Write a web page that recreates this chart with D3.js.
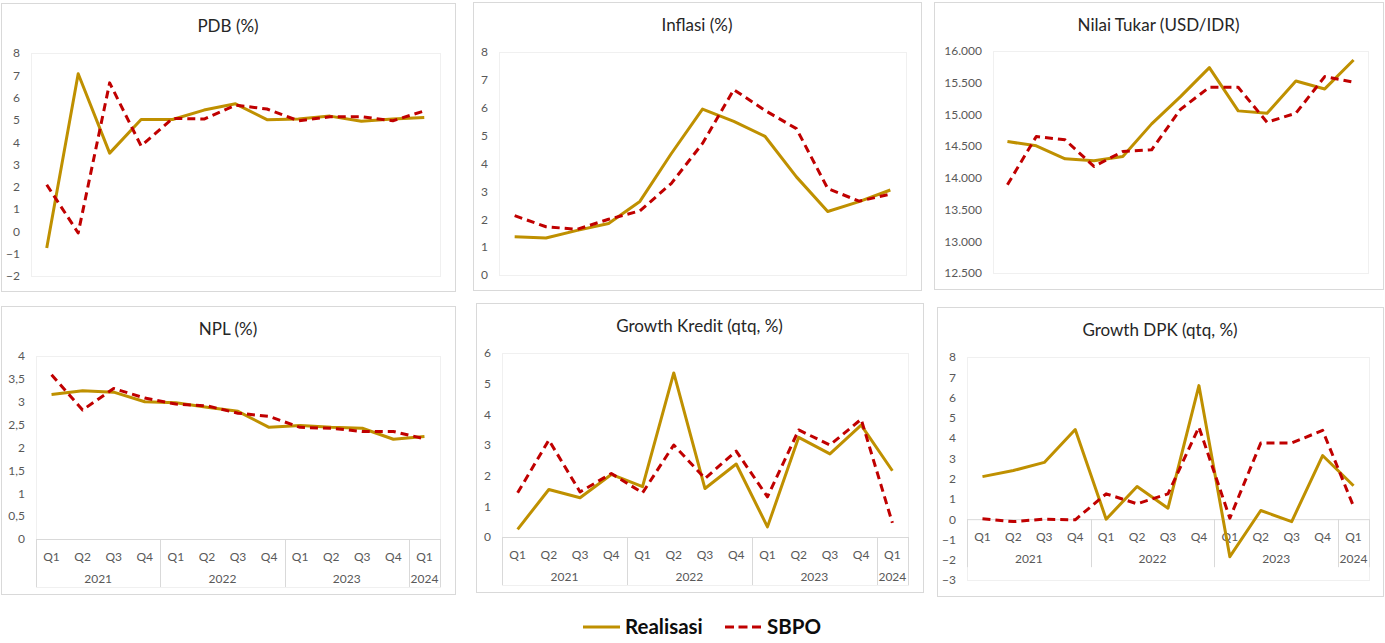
<!DOCTYPE html>
<html>
<head>
<meta charset="utf-8">
<script src="https://cdnjs.cloudflare.com/ajax/libs/d3/7.8.5/d3.min.js"></script>
<style>
  html, body { margin: 0; padding: 0; background: #fff; }
  svg { display: block; font-family: Lato, "Open Sans", sans-serif; }
</style>
</head>
<body>
<div id="chart"></div>
<script>
// ===============================================================
// Data
// ===============================================================
const quarters = ['Q1','Q2','Q3','Q4','Q1','Q2','Q3','Q4','Q1','Q2','Q3','Q4','Q1'];
const years = ['2021', '2022', '2023', '2024'];
const year_sizes = [4, 4, 4, 1];
const series_names = ['Realisasi', 'SBPO'];

const pdb_realisasi = [-0.74, 7.07, 3.51, 5.02, 5.02, 5.44, 5.72, 5.01, 5.04, 5.17, 4.94, 5.04, 5.11];
const pdb_sbpo      = [2.09, -0.07, 6.66, 3.83, 5.07, 5.04, 5.66, 5.49, 4.96, 5.14, 5.14, 4.96, 5.40];

const inflasi_realisasi = [1.37, 1.33, 1.60, 1.85, 2.64, 4.35, 5.95, 5.51, 4.97, 3.52, 2.28, 2.63, 3.05];
const inflasi_sbpo      = [2.13, 1.73, 1.64, 2.00, 2.30, 3.28, 4.72, 6.65, 5.90, 5.25, 3.10, 2.65, 2.90];

const kurs_realisasi = [14572, 14505, 14300, 14268, 14337, 14851, 15281, 15738, 15056, 15019, 15528, 15402, 15858];
const kurs_sbpo      = [13891, 14652, 14599, 14180, 14416, 14442, 15080, 15428, 15428, 14877, 15019, 15596, 15507];

const npl_realisasi = [3.16, 3.24, 3.21, 3.00, 2.98, 2.88, 2.79, 2.44, 2.48, 2.44, 2.42, 2.18, 2.24];
const npl_sbpo      = [3.59, 2.82, 3.29, 3.08, 2.95, 2.91, 2.75, 2.68, 2.44, 2.42, 2.35, 2.35, 2.19];

const kredit_realisasi = [0.25, 1.55, 1.28, 2.04, 1.64, 5.35, 1.58, 2.38, 0.33, 3.25, 2.71, 3.65, 2.16];
const kredit_sbpo      = [1.44, 3.16, 1.47, 2.07, 1.44, 3.00, 1.91, 2.80, 1.31, 3.49, 3.00, 3.84, 0.46];

const dpk_realisasi = [2.10, 2.40, 2.80, 4.42, 0.00, 1.61, 0.54, 6.59, -1.85, 0.43, -0.12, 3.14, 1.65];
const dpk_sbpo      = [0.02, -0.12, 0.00, -0.03, 1.25, 0.76, 1.25, 4.54, 0.05, 3.76, 3.76, 4.38, 0.63];

// ===============================================================
// Setup
// ===============================================================
const width = 1385, height = 643;
const colors = {Realisasi: '#bf9000', SBPO: '#c00000'};
const dash = '8,5';

const id_locale = d3.formatLocale({decimal: ',', thousands: '.', grouping: [3], currency: ['', '']});

// one entry per small chart: frame box, plot rect, y domain
const panels = [
  {title: 'PDB (%)', real: pdb_realisasi, sbpo: pdb_sbpo,
   box: [1, 3, 454, 288], plot: [31, 53, 409, 223], domain: [-2, 8], step: 1, fmt: d3.format('d'), x_axis: false},
  {title: 'Inflasi (%)', real: inflasi_realisasi, sbpo: inflasi_sbpo,
   box: [473, 2, 448, 288], plot: [499, 52, 407, 223], domain: [0, 8], step: 1, fmt: d3.format('d'), x_axis: false},
  {title: 'Nilai Tukar (USD/IDR)', real: kurs_realisasi, sbpo: kurs_sbpo,
   box: [934, 2, 449, 287], plot: [993, 51, 375, 222], domain: [12500, 16000], step: 500, fmt: id_locale.format(',.0f'), x_axis: false},
  {title: 'NPL (%)', real: npl_realisasi, sbpo: npl_sbpo,
   box: [1, 306, 454, 288], plot: [36, 356, 404, 183], domain: [0, 4], step: 0.5, fmt: id_locale.format(''), x_axis: true},
  {title: 'Growth Kredit (qtq, %)', real: kredit_realisasi, sbpo: kredit_sbpo,
   box: [476, 303, 447, 289], plot: [502, 353, 406, 184], domain: [0, 6], step: 1, fmt: d3.format('d'), x_axis: true},
  {title: 'Growth DPK (qtq, %)', real: dpk_realisasi, sbpo: dpk_sbpo,
   box: [937, 307, 446, 289], plot: [967, 357, 402, 223], domain: [-3, 8], step: 1, fmt: d3.format('d'), x_axis: true},
];

const svg = d3.select('#chart').append('svg')
  .attr('width', width)
  .attr('height', height);

panels.forEach(p => draw_panel(svg, p));
draw_legend(svg);

// ===============================================================
// Drawing
// ===============================================================
function draw_panel(svg, p) {
  const [bx, by, bw, bh] = p.box;
  const [px, py, pw, ph] = p.plot;
  const g = svg.append('g');

  g.append('rect')
    .attr('x', bx + 0.5).attr('y', by + 0.5)
    .attr('width', bw).attr('height', bh)
    .attr('fill', '#fff')
    .attr('stroke', '#d9d9d9');

  g.append('text')
    .attr('x', bx + bw / 2)
    .attr('y', by + 29)
    .attr('text-anchor', 'middle')
    .attr('font-size', 17)
    .attr('fill', '#262626')
    .text(p.title);

  const x = d3.scaleBand()
    .domain(d3.range(quarters.length))
    .range([px, px + pw])
    .padding(0);

  const y = d3.scaleLinear()
    .domain(p.domain)
    .range([py + ph, py]);

  const y0 = p.x_axis ? y(0) : null;
  const frame_bottom = p.x_axis ? Math.max(py + ph, y0 + 48) : py + ph;

  // faint plot area outline
  g.append('rect')
    .attr('x', px + 0.5).attr('y', py + 0.5)
    .attr('width', pw).attr('height', frame_bottom - py)
    .attr('fill', 'none')
    .attr('stroke', '#f0f0f0');

  const ticks = d3.range(p.domain[0], p.domain[1] + p.step / 2, p.step);
  g.append('g')
    .attr('transform', `translate(${px},0)`)
    .call(d3.axisLeft(y).tickValues(ticks).tickFormat(p.fmt).tickSize(0).tickPadding(11))
    .call(a => a.select('.domain').remove())
    .call(a => a.selectAll('text')
      .attr('font-family', 'Lato, "Open Sans", sans-serif')
      .attr('font-size', 12)
      .attr('fill', '#595959'));

  if (p.x_axis) draw_category_axis(g, x, y0);

  const line = d3.line()
    .x((d, i) => x(i) + x.bandwidth() / 2)
    .y(d => y(d));

  g.append('path')
    .datum(p.real)
    .attr('d', line)
    .attr('fill', 'none')
    .attr('stroke', colors.Realisasi)
    .attr('stroke-width', 3)
    .attr('stroke-linejoin', 'round');

  g.append('path')
    .datum(p.sbpo)
    .attr('d', line)
    .attr('fill', 'none')
    .attr('stroke', colors.SBPO)
    .attr('stroke-width', 3)
    .attr('stroke-dasharray', dash)
    .attr('stroke-linejoin', 'round');
}

function draw_category_axis(g, x, y0) {
  const [x_left, x_right] = x.range();
  const bw = x.bandwidth();

  g.append('line')
    .attr('x1', x_left).attr('x2', x_right)
    .attr('y1', y0 + 0.5).attr('y2', y0 + 0.5)
    .attr('stroke', '#d9d9d9');

  // separators between year groups
  let bounds = [0];
  year_sizes.forEach(n => bounds.push(bounds[bounds.length - 1] + n));
  g.selectAll('line.sep')
    .data(bounds)
    .join('line')
    .attr('class', 'sep')
    .attr('x1', d => Math.round(x_left + d * bw) + 0.5)
    .attr('x2', d => Math.round(x_left + d * bw) + 0.5)
    .attr('y1', y0)
    .attr('y2', y0 + 48)
    .attr('stroke', '#d9d9d9');

  g.selectAll('text.q')
    .data(quarters)
    .join('text')
    .attr('class', 'q')
    .attr('x', (d, i) => x(i) + bw / 2)
    .attr('y', y0 + 22)
    .attr('text-anchor', 'middle')
    .attr('font-size', 12)
    .attr('fill', '#595959')
    .text(d => d);

  g.selectAll('text.yr')
    .data(years)
    .join('text')
    .attr('class', 'yr')
    .attr('x', (d, i) => x_left + (bounds[i] + year_sizes[i] / 2) * bw)
    .attr('y', y0 + 44)
    .attr('text-anchor', 'middle')
    .attr('font-size', 12)
    .attr('fill', '#595959')
    .text(d => d);
}

function draw_legend(svg) {
  const lg = svg.append('g').attr('transform', 'translate(583,627)');
  const item_x = [0, 142];

  series_names.forEach((name, i) => {
    const it = lg.append('g').attr('transform', `translate(${item_x[i]},0)`);
    it.append('line')
      .attr('x1', 0).attr('x2', 37)
      .attr('y1', 0).attr('y2', 0)
      .attr('stroke', colors[name])
      .attr('stroke-width', 3)
      .attr('stroke-dasharray', name === 'SBPO' ? '9,4.5' : null);
    it.append('text')
      .attr('x', 42)
      .attr('y', 7)
      .attr('font-size', 20.5)
      .attr('font-weight', 'bold')
      .attr('fill', '#0d0d0d')
      .text(name);
  });
}
</script>
</body>
</html>
